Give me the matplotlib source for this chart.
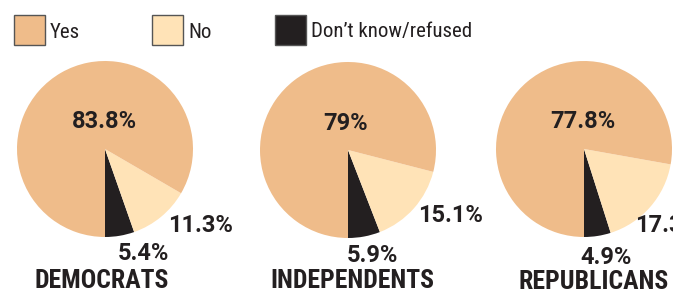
import matplotlib.pyplot as plt
from matplotlib.patches import Rectangle

# Data
groups = ["DEMOCRATS", "INDEPENDENTS", "REPUBLICANS"]
answers = ["Yes", "No", "Don\u2019t know/refused"]
yes = [83.8, 79, 77.8]
no = [11.3, 15.1, 17.3]
dont_know = [5.4, 5.9, 4.9]

colors = ["#EFBC8A", "#FFE3B7", "#231F20"]
ink = "#231F20"
cond = ["Roboto Condensed", "Archivo Narrow", "Barlow Condensed", "DejaVu Sans"]
plain = ["Roboto", "DejaVu Sans"]

W, H = 673, 299
fig = plt.figure(figsize=(W / 100, H / 100), dpi=100)
ax = fig.add_axes([0, 0, 1, 1])

# pie layout (pixels, y from top)
centers = [(105, 149), (348, 150), (584, 149)]
radius = 88
label_pos = [
    [(104, 122), (201, 226), (143, 254)],
    [(346, 123), (450, 216), (372, 255)],
    [(583, 122), (668, 226), (606, 257)],
]
title_pos = [(102, 281), (352, 281), (594, 282)]

for i, g in enumerate(groups):
    cx, cy = centers[i]
    vals = [dont_know[i], no[i], yes[i]]
    ax.pie(vals, colors=[colors[2], colors[1], colors[0]], startangle=-90,
           counterclock=True, center=(cx, H - cy), radius=radius,
           wedgeprops=dict(linewidth=0))
    texts = [yes[i], no[i], dont_know[i]]
    for (tx, ty), v in zip(label_pos[i], texts):
        ax.text(tx, H - ty, f"{v:g}%", ha="center", va="center",
                fontsize=17, fontweight="bold", color=ink, family=plain)
    ax.text(title_pos[i][0], H - title_pos[i][1], g, ha="center", va="center",
            fontsize=18.5, fontweight="heavy", color=ink, family=cond)

ax.set_xlim(0, W)
ax.set_ylim(0, H)
ax.set_aspect("equal")
ax.axis("off")

# legend
legend_x = [14, 152, 275]
for x0, lab, c in zip(legend_x, answers, colors):
    ax.add_patch(Rectangle((x0, H - 45), 31, 30, facecolor=c,
                           edgecolor="#555555", linewidth=1))
    ax.text(x0 + 36, H - 32, lab, ha="left", va="center", fontsize=15,
            color=ink, family=cond)

fig.savefig("out.png", dpi=100)
